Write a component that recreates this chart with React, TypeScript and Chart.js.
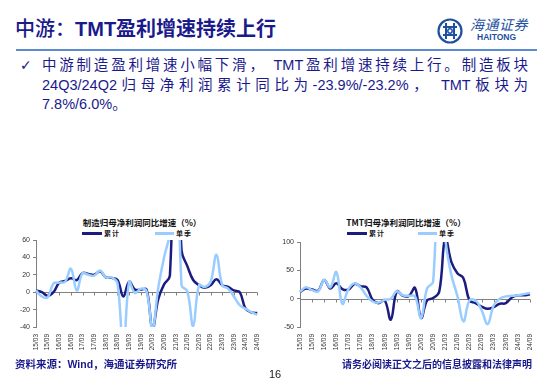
import React, { useEffect, useRef } from 'react';
import { Chart, registerables } from 'chart.js';

Chart.register(...registerables);

// ---------- data ----------
const categories = [
  '15/03', '15/06', '15/09', '15/12', '16/03', '16/06', '16/09', '16/12',
  '17/03', '17/06', '17/09', '17/12', '18/03', '18/06', '18/09', '18/12',
  '19/03', '19/06', '19/09', '19/12', '20/03', '20/06', '20/09', '20/12',
  '21/03', '21/06', '21/09', '21/12', '22/03', '22/06', '22/09', '22/12',
  '23/03', '23/06', '23/09', '23/12', '24/03', '24/06', '24/09',
];

const seriesNames = ['累计', '单季'];

// 制造归母净利润同比增速（%）
const mfgCumulative = [
  2, 0, -4, 0, 11, 13, 16, 14, 22, 21, 20, 24, 17, 16.5, 14, -5, 12, 3, 3, 3,
  -42, -8, 9, 19, 250, 48, 30, 14, 8, 5, 8, 15, 8, 6, 2, 0, -19, -23.2, -23.9,
];
const mfgQuarterly = [
  2, -5, -6, 10, 11, 12, 27, 2, 22, 20, 19, 25, 17, 17, 10, -70, 12, -1, 4, 1,
  -42, 5, 40, 70, 250, 8, 1, -39, 8, 6, 12, 43, 8, 4, -5, -15, -19, -23, -26,
];
const mfgYTicks = [-40, -20, 0, 20, 40, 60];

// TMT归母净利润同比增速（%）
const tmtCumulative = [
  12, 18, 16, 14, 33, 18, 27, 17, 16, 26, 22, 20, -2, -8, -3, -37, 13, 5, 5, 19,
  -34, -3, 1, 12, 108, 65, 45, 36, -3, -8, -14, -18, -15, -9, -8, 2, 6, 6.0, 7.8,
];
const tmtQuarterly = [
  12, 20, 15, 13, 33, 20, 47, -9, 17, 27, 20, 5, -5, -7, -2, 0, 13, 6, 5, 4,
  -34, 18, 30, 300, 108, 42, 5, -40, -3, -3, -20, -45, -12, 0, 4, 5, 6, 8, 10,
];
const tmtYTicks = [-50, 0, 50, 100];

// ---------- styles ----------
const NAVY = '#1a1a8c';
const DARK = '#1c1c80';
const LIGHT = '#99ccff';
const AXIS = '#808080';
const LATIN = '"Liberation Sans", Arial, "Noto Sans CJK SC", sans-serif';
const CJK = '"Noto Sans CJK SC", "Liberation Sans", sans-serif';

const zeroAxisPlugin = {
  id: 'zeroAxis',
  beforeDatasetsDraw(chart: any) {
    const { ctx, chartArea, scales } = chart;
    const y0 = Math.round(scales.y.getPixelForValue(0)) + 0.5;
    ctx.save();
    ctx.strokeStyle = AXIS;
    ctx.lineWidth = 1;
    ctx.beginPath();
    ctx.moveTo(chartArea.left, y0);
    ctx.lineTo(chartArea.right, y0);
    const n = chart.data.labels.length;
    for (let i = 0; i < n; i += 2) {
      const x = Math.round(scales.x.getPixelForValue(i)) + 0.5;
      ctx.moveTo(x, y0);
      ctx.lineTo(x, y0 + 3);
    }
    ctx.stroke();
    ctx.restore();
  },
};

type LineProps = {
  cum: number[];
  qtr: number[];
  yTicks: number[];
  left: number;
  top: number;
  width: number;
  height: number;
  axisWidth: number;
  padTop: number;
  padRight: number;
  xHeight: number;
};

function LineChart(p: LineProps) {
  const ref = useRef<HTMLCanvasElement>(null);
  useEffect(() => {
    const step = p.yTicks[1] - p.yTicks[0];
    const chart = new Chart(ref.current as HTMLCanvasElement, {
      type: 'line',
      data: {
        labels: categories,
        datasets: [
          {
            label: seriesNames[0],
            data: p.cum,
            borderColor: DARK,
            backgroundColor: DARK,
            borderWidth: 2.5,
            pointRadius: 0,
            tension: 0.4,
            fill: false,
            order: 1,
          },
          {
            label: seriesNames[1],
            data: p.qtr,
            borderColor: LIGHT,
            backgroundColor: LIGHT,
            borderWidth: 2.5,
            pointRadius: 0,
            tension: 0.4,
            fill: false,
            order: 0,
          },
        ],
      },
      options: {
        responsive: false,
        animation: false,
        layout: { padding: { top: p.padTop, right: p.padRight, left: 0, bottom: 0 } },
        plugins: {
          legend: { display: false },
          title: { display: false },
          tooltip: { enabled: false },
        },
        scales: {
          x: {
            grid: { display: false, drawTicks: false },
            border: { display: false },
            ticks: {
              autoSkip: false,
              maxRotation: 90,
              minRotation: 90,
              padding: 7,
              color: '#333',
              font: { size: 6.5, family: LATIN },
              callback: (_v: any, i: number) => (i % 2 === 0 ? categories[i] : ''),
            },
            afterFit: (s: any) => {
              s.height = p.xHeight;
            },
          },
          y: {
            min: p.yTicks[0],
            max: p.yTicks[p.yTicks.length - 1],
            ticks: {
              stepSize: step,
              color: '#333',
              padding: 3,
              font: { size: 7, family: LATIN },
            },
            grid: { drawOnChartArea: false, drawTicks: true, tickLength: 3, color: AXIS },
            border: { display: true, color: AXIS },
            afterFit: (s: any) => {
              s.width = p.axisWidth;
            },
          },
        },
      },
      plugins: [zeroAxisPlugin],
    });
    return () => chart.destroy();
  }, []);
  return (
    <canvas
      ref={ref}
      width={p.width}
      height={p.height}
      style={{ position: 'absolute', left: p.left, top: p.top, width: p.width, height: p.height }}
    />
  );
}

function ChartHeader(props: { title: string; cx: number; darkX: number; lightX: number }) {
  const legendText: React.CSSProperties = {
    position: 'absolute',
    top: 228,
    fontSize: 7,
    fontWeight: 700,
    fontFamily: CJK,
    color: '#222',
    lineHeight: '10px',
    letterSpacing: 1,
  };
  return (
    <>
      <div
        style={{
          position: 'absolute',
          left: props.cx - 90,
          width: 180,
          top: 216,
          textAlign: 'center',
          fontSize: 8.5,
          fontWeight: 700,
          fontFamily: CJK,
          color: '#111',
          lineHeight: '12px',
        }}
      >
        {props.title}
      </div>
      <div style={{ position: 'absolute', left: props.darkX, top: 232, width: 20, height: 3, background: DARK }} />
      <div style={{ ...legendText, left: props.darkX + 22 }}>{seriesNames[0]}</div>
      <div style={{ position: 'absolute', left: props.lightX, top: 232, width: 19, height: 3, background: LIGHT }} />
      <div style={{ ...legendText, left: props.lightX + 21 }}>{seriesNames[1]}</div>
    </>
  );
}

function Logo() {
  return (
    <>
      <svg
        width={28}
        height={28}
        viewBox="0 0 28 28"
        style={{ position: 'absolute', left: 436, top: 17 }}
      >
        <circle cx={14} cy={14} r={11.5} fill="none" stroke="#1e50a0" strokeWidth={2.2} />
        <path d="M7 10 H21 M7 18 H21 M10 6 V22 M18 6 V22" stroke="#1e50a0" strokeWidth={2} fill="none" />
        <circle cx={14} cy={14} r={2.2} fill="#fff" stroke="#1e50a0" strokeWidth={1.5} />
      </svg>
      <div
        style={{
          position: 'absolute',
          left: 470,
          top: 16,
          fontSize: 14,
          fontStyle: 'italic',
          fontFamily: CJK,
          color: '#1e50a0',
          lineHeight: '16px',
          letterSpacing: 0.5,
        }}
      >
        海通证券
      </div>
      <div
        style={{
          position: 'absolute',
          left: 477,
          top: 32,
          fontSize: 8.5,
          fontWeight: 700,
          fontFamily: LATIN,
          color: '#1e50a0',
          lineHeight: '10px',
        }}
      >
        HAITONG
      </div>
    </>
  );
}

export default function App() {
  useEffect(() => {
    document.body.style.margin = '0';
  }, []);

  const lineStyle: React.CSSProperties = {
    width: 486,
    height: 19.5,
    whiteSpace: 'nowrap',
  };
  const justified: React.CSSProperties = {
    ...lineStyle,
    whiteSpace: 'normal',
    textAlign: 'justify',
    textAlignLast: 'justify' as any,
    overflow: 'hidden',
  };

  return (
    <div
      style={{
        position: 'fixed',
        left: 0,
        top: 0,
        width: 550,
        height: 380,
        background: '#fff',
        overflow: 'hidden',
        fontFamily: LATIN,
      }}
    >
      {/* header */}
      <div
        style={{
          position: 'absolute',
          left: 15,
          top: 17,
          fontSize: 20,
          lineHeight: '24px',
          color: NAVY,
          fontFamily: LATIN,
          whiteSpace: 'nowrap',
        }}
      >
        <span style={{ fontWeight: 500 }}>中游：</span>
        <span style={{ fontWeight: 700 }}>TMT盈利增速持续上行</span>
      </div>
      <Logo />
      <div style={{ position: 'absolute', left: 16, top: 49, width: 521, height: 2, background: '#5b8bd0' }} />

      {/* bullet text */}
      <div
        style={{
          position: 'absolute',
          left: 20,
          top: 56,
          fontSize: 14,
          lineHeight: '19.5px',
          color: NAVY,
          fontFamily: '"DejaVu Sans", sans-serif',
        }}
      >
        ✓
      </div>
      <div
        style={{
          position: 'absolute',
          left: 42,
          top: 56,
          fontSize: 14.5,
          lineHeight: '19.5px',
          color: NAVY,
          fontFamily: LATIN,
        }}
      >
        <div style={justified}>中游制造盈利增速小幅下滑， TMT盈利增速持续上行。制造板块</div>
        <div style={justified}>24Q3/24Q2归母净利润累计同比为-23.9%/-23.2%， TMT板块为</div>
        <div style={lineStyle}>7.8%/6.0%。</div>
      </div>

      {/* charts */}
      <ChartHeader title="制造归母净利润同比增速（%）" cx={142} darkX={82} lightX={155} />
      <LineChart
        cum={mfgCumulative}
        qtr={mfgQuarterly}
        yTicks={mfgYTicks}
        left={0}
        top={212}
        width={272}
        height={150}
        axisWidth={36}
        padTop={28}
        padRight={9}
        xHeight={35}
      />
      <ChartHeader title="TMT归母净利润同比增速（%）" cx={406} darkX={347} lightX={418} />
      <LineChart
        cum={tmtCumulative}
        qtr={tmtQuarterly}
        yTicks={tmtYTicks}
        left={272}
        top={212}
        width={278}
        height={150}
        axisWidth={28}
        padTop={30}
        padRight={20}
        xHeight={35}
      />

      {/* footer */}
      <div
        style={{
          position: 'absolute',
          left: 15,
          top: 357,
          fontSize: 10.5,
          fontWeight: 700,
          color: NAVY,
          fontFamily: LATIN,
          lineHeight: '14px',
          whiteSpace: 'nowrap',
        }}
      >
        资料来源：Wind，海通证券研究所
      </div>
      <div
        style={{
          position: 'absolute',
          right: 18,
          top: 357,
          fontSize: 10,
          fontWeight: 700,
          color: NAVY,
          fontFamily: CJK,
          lineHeight: '14px',
          whiteSpace: 'nowrap',
        }}
      >
        请务必阅读正文之后的信息披露和法律声明
      </div>
      <div
        style={{
          position: 'absolute',
          left: 0,
          width: 550,
          top: 367,
          textAlign: 'center',
          fontSize: 11,
          color: '#222',
          fontFamily: LATIN,
          lineHeight: '14px',
        }}
      >
        16
      </div>
    </div>
  );
}
